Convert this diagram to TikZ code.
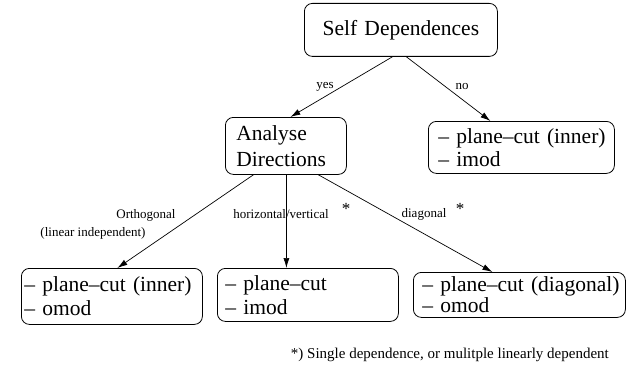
\documentclass[tikz,border=0pt]{standalone}
\usepackage{fontspec}
\setmainfont{Liberation Serif}
\usetikzlibrary{arrows.meta,calc}
\begin{document}
\begin{tikzpicture}[x=1pt,y=-1pt,
  box/.style={draw,rounded corners=8pt,line width=0.8pt,anchor=north west,inner ysep=0pt,align=left,font=\fontsize{21.5}{24}\selectfont},
  edge/.style={draw,line width=0.7pt,-{Latex[length=10pt,width=6pt]}},
  lbl/.style={font=\fontsize{13}{15}\selectfont,inner sep=0pt},
  star/.style={font=\fontsize{17}{17}\selectfont,inner sep=0pt},
]
\useasboundingbox (0,0) rectangle (639,369);

\node[box,align=center,inner xsep=0pt,text width=193pt,minimum height=53pt] (sd) at (304,3) {Self Dependences};
\node[box,inner xsep=11pt,text width=99pt,minimum height=57pt,font=\fontsize{21.5}{26.5}\selectfont] (ad) at (225,117) {\mbox{Analyse}\\\mbox{Directions}};
\node[box,inner xsep=10pt,text width=166pt,minimum height=52pt,font=\fontsize{21.5}{23.5}\selectfont] (no) at (428,121) {\mbox{– plane–cut (inner)}\\\mbox{– imod}};
\node[box,inner xsep=3pt,text width=175pt,minimum height=56pt] (b1) at (21,268) {\mbox{– plane–cut (inner)}\\\mbox{– omod}};
\node[box,inner xsep=8pt,text width=165pt,minimum height=53pt,font=\fontsize{21.5}{23.5}\selectfont] (b2) at (217,268) {\mbox{– plane–cut}\\\mbox{– imod}};
\node[box,inner xsep=9pt,text width=194pt,minimum height=45pt,font=\fontsize{21.5}{19}\selectfont] (b3) at (413,272) {\mbox{– plane–cut (diagonal)}\\\mbox{– omod}};

\draw[edge] ([xshift=-8.5pt]sd.south) -- ([xshift=4.5pt]ad.north);
\draw[edge] ([xshift=5.5pt]sd.south) -- ([xshift=-31pt]no.north);
\draw[edge] ([xshift=-32.5pt]ad.south) -- ([xshift=5.5pt]b1.north);
\draw[edge] ([xshift=0.5pt]ad.south) -- ([xshift=-21.5pt]b2.north);
\draw[edge] ([xshift=32.5pt]ad.south) -- ([xshift=-27pt]b3.north);

\node[lbl] (lyes) at (325,87) {yes};
\node[lbl] (lno) at (462,87) {no};
\node[lbl] (lorth) at (146,215) {Orthogonal};
\node[lbl] (llin) at (93,233) {(linear independent)};
\node[lbl] (lhv) at (281,214) {horizontal/vertical};
\node[star] (s1) at (346,209) {*};
\node[lbl] (ldiag) at (424,214) {diagonal};
\node[star] (s2) at (460,209) {*};

\node[anchor=base east,inner sep=0pt,font=\fontsize{15}{17}\selectfont] (foot) at (609,358) {*) Single dependence, or mulitple linearly dependent};
\end{tikzpicture}
\end{document}
